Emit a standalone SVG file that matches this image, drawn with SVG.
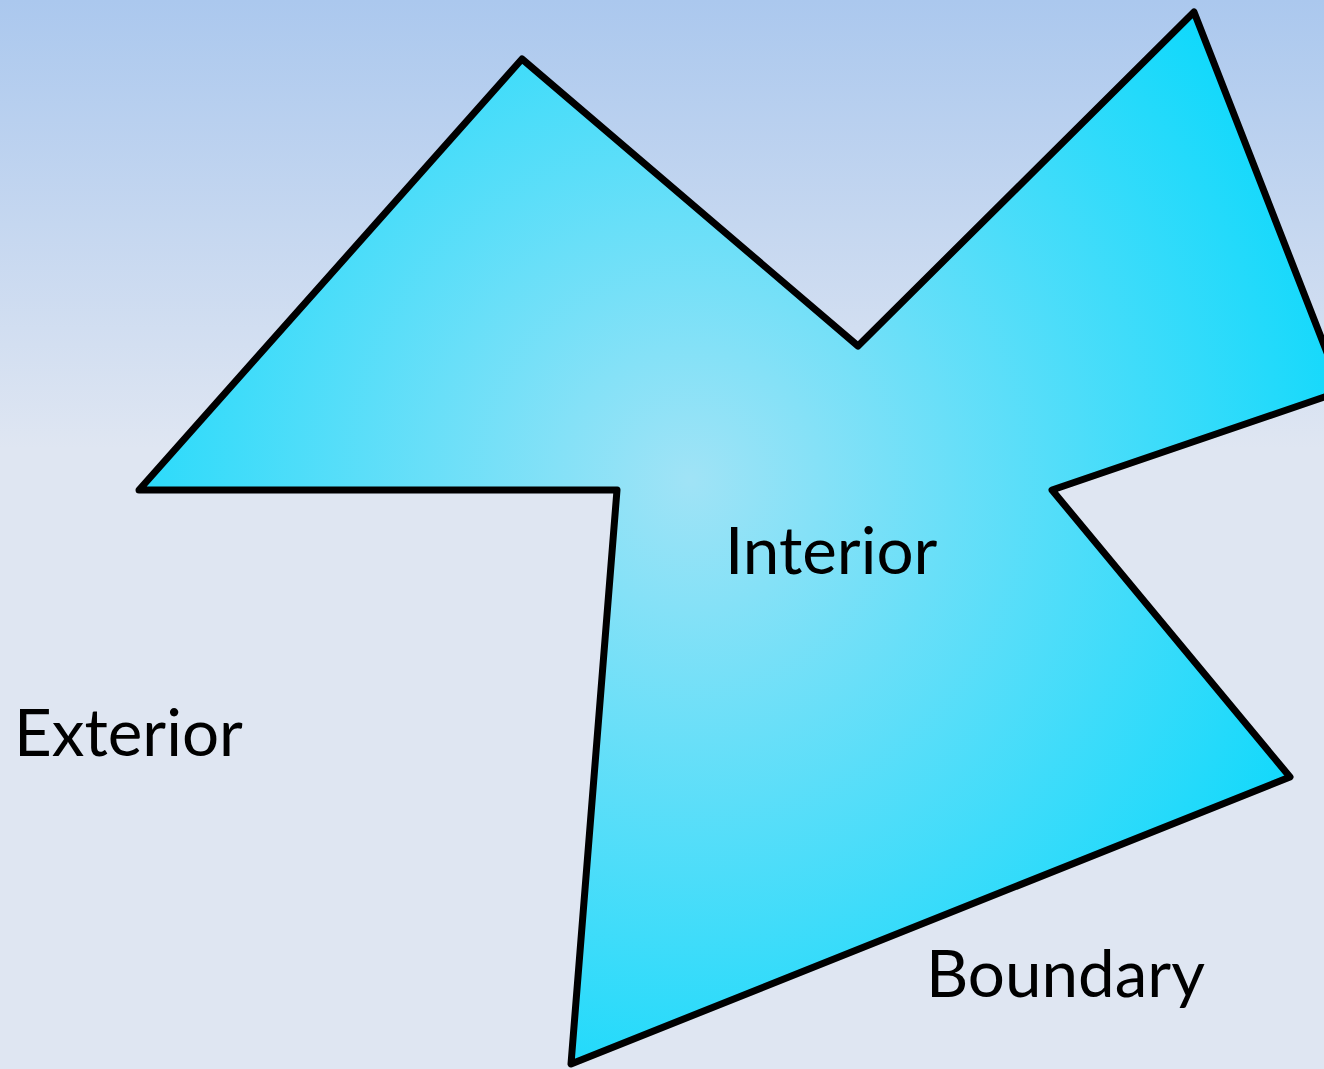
<svg xmlns="http://www.w3.org/2000/svg" width="1324" height="1069" viewBox="0 0 1324 1069">
<defs>
<linearGradient id="bg" x1="0" y1="0" x2="0" y2="1069" gradientUnits="userSpaceOnUse">
<stop offset="0" stop-color="#abc8ee"/>
<stop offset="0.42" stop-color="#dfe6f2"/>
<stop offset="1" stop-color="#dfe6f2"/>
</linearGradient>
<radialGradient id="fill" cx="690" cy="480" r="720" gradientUnits="userSpaceOnUse">
<stop offset="0" stop-color="#a0e3f6"/>
<stop offset="1" stop-color="#08d8fc"/>
</radialGradient>
<style>
.lbl{font-family:Lato,"Liberation Sans",sans-serif;font-size:65.5px;font-weight:400;fill:#000}
</style>
</defs>
<rect width="1324" height="1069" fill="url(#bg)"/>
<g id="region">
<polygon points="522,59 858,346 1194,12 1342,391 1052,490 1290,777 571,1064 617,490 139,490" fill="url(#fill)" stroke="#000" stroke-width="7" stroke-linejoin="round"/>
</g>
<g id="labels">
<text class="lbl" x="725" y="574">Interior</text>
<text class="lbl" x="14" y="756">Exterior</text>
<text class="lbl" x="926" y="997">Boundary</text>
</g>
</svg>
